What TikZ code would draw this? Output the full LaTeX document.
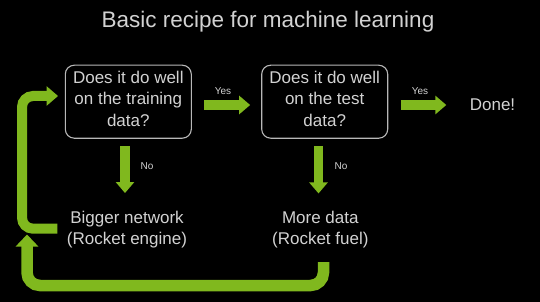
\documentclass[tikz,border=0pt]{standalone}
\usepackage{fontspec}
\setmainfont{Liberation Sans}
\usetikzlibrary{arrows.meta}
\definecolor{nvgreen}{HTML}{80B81E}
\definecolor{txtgray}{HTML}{D2D2D2}
\definecolor{boxgray}{HTML}{B8B8B8}
\tikzset{
  qbox/.style={draw=boxgray, line width=1.1pt, rounded corners=9pt, minimum width=126pt, minimum height=73pt, inner sep=0pt, align=center, text=txtgray, font=\fontsize{17}{21.7}\selectfont},
  plain/.style={inner sep=0pt, align=center, text=txtgray, font=\fontsize{17}{21.5}\selectfont},
  small/.style={inner sep=0pt, text=txtgray, font=\fontsize{10}{12}\selectfont},
  garrow/.style={draw=nvgreen, line width=9.5pt, -{Triangle[width=18pt,length=11pt]}},
  loopa/.style={draw=nvgreen, line width=10pt, rounded corners=11pt, -{Triangle[width=19pt,length=11.5pt]}},
  loopb/.style={draw=nvgreen, line width=11.5pt, rounded corners=13pt, -{Triangle[width=22pt,length=12pt]}},
}
\begin{document}
\begin{tikzpicture}[x=1pt,y=-1pt]
\fill[black] (0,0) rectangle (540,302);
\useasboundingbox (0,0) rectangle (540,302);

\node[inner sep=0pt, text=txtgray, font=\fontsize{22.5}{27}\selectfont] (title) at (268,22) {Basic recipe for machine learning};

\node[qbox] (b1) at (128.3,101.7) {Does it do well\\on the training\\data?\rule[-6pt]{0pt}{6pt}};
\node[qbox] (b2) at (324.7,101.7) {Does it do well\\on the test\\data?\rule[-6pt]{0pt}{6pt}};
\node[plain] (done) at (492.5,105) {Done!};

\node[plain] (big) at (127,229.4) {Bigger network\\(Rocket engine)};
\node[plain] (more) at (320.3,229.8) {More data\\(Rocket fuel)};

\node[small] (y1) at (223,91) {Yes};
\node[small] (y2) at (420,91) {Yes};
\node[small] (n1) at (147,166) {No};
\node[small] (n2) at (341,166) {No};

\coordinate (ja) at (22,160);
\coordinate (bl) at (27,285.5);
\coordinate (jb) at (27,234.5);

\draw[garrow] ([xshift=12.5pt,yshift=-3.3pt]b1.east) -- ([xshift=-11pt,yshift=-3.3pt]b2.west);
\draw[garrow] ([xshift=12.7pt,yshift=-3.3pt]b2.east) -- ([xshift=-23.3pt]done.west);
\draw[garrow] ([xshift=-3.3pt,yshift=-7.5pt]b1.south) -- ([xshift=-2pt,yshift=17.5pt]big.north);
\draw[garrow] ([xshift=-6.2pt,yshift=-7.5pt]b2.south) -- ([xshift=-1.8pt,yshift=17.5pt]more.north);

\draw[loopa] ([xshift=-9.3pt,yshift=0.7pt]big.west) -| (ja) |- ([xshift=-6.7pt,yshift=5.7pt]b1.west);
\draw[loopb] ([xshift=3.2pt,yshift=-13.5pt]more.south) |- (bl) -- (jb);
\end{tikzpicture}
\end{document}
